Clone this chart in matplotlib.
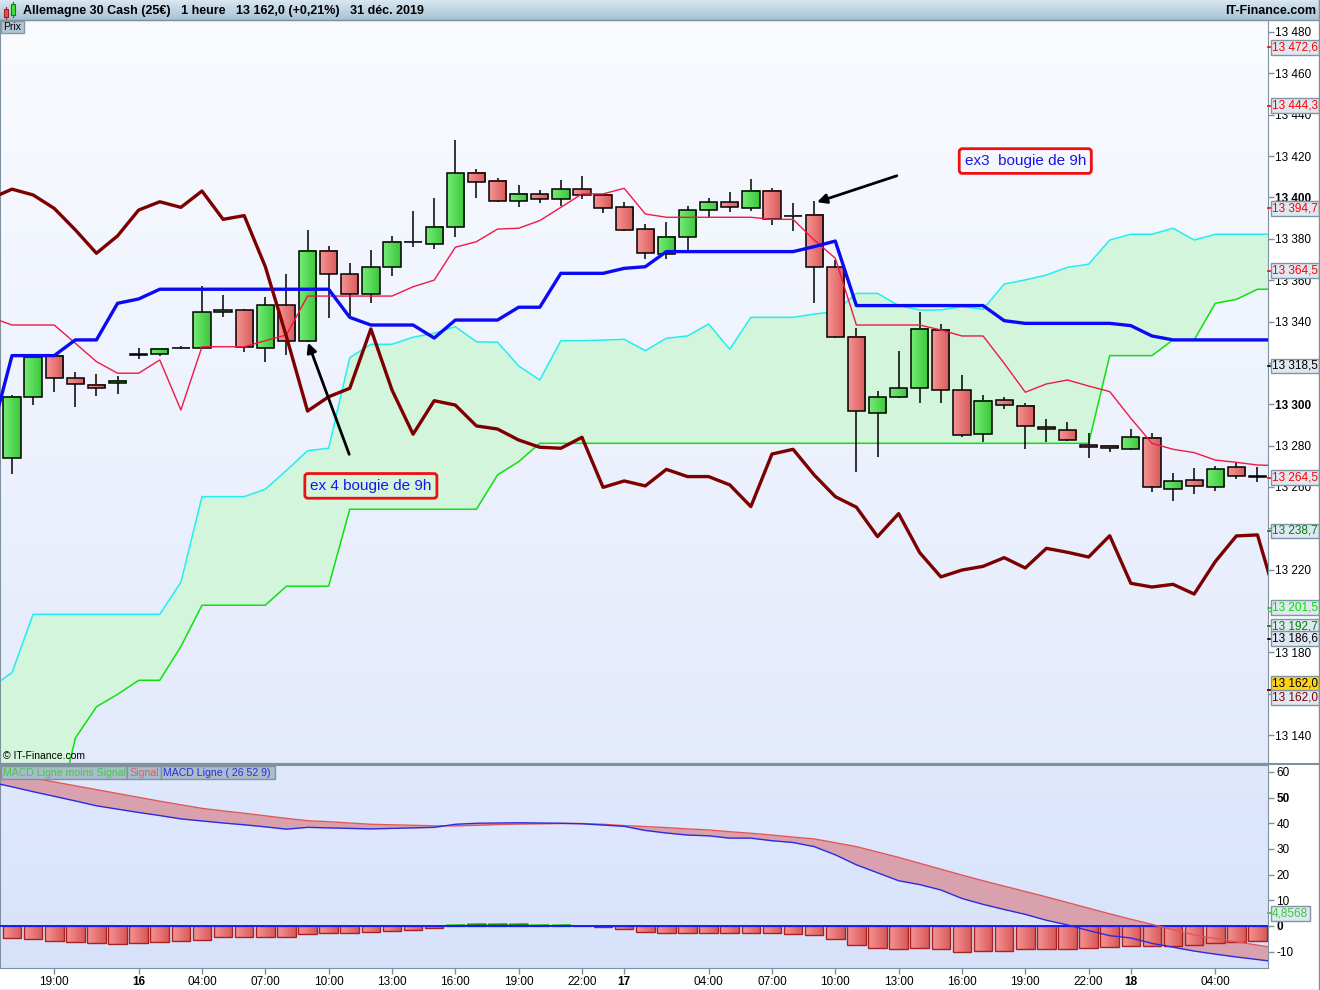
import numpy as np
import matplotlib.pyplot as plt
from matplotlib.patches import Rectangle
from matplotlib.colors import LinearSegmentedColormap

plt.rcParams['font.family'] = ['Liberation Sans', 'DejaVu Sans']

# hourly candles, 60 bars
opens = [13274.0, 13303.4, 13323.2, 13312.5, 13309.4, 13310.1, 13324.0, 13324.1, 13327.0, 13327.1,
         13344.5, 13345.4, 13327.1, 13347.8, 13330.4, 13374.0, 13362.8, 13353.2, 13366.2, 13378.3,
         13377.3, 13385.6, 13411.7, 13407.8, 13398.1, 13401.5, 13399.1, 13403.9, 13401.0, 13395.2,
         13384.6, 13372.5, 13381.0, 13393.8, 13397.6, 13394.7, 13403.0, 13391.0, 13391.4, 13366.2,
         13332.7, 13295.9, 13303.4, 13307.7, 13336.0, 13306.7, 13285.5, 13301.9, 13299.0, 13288.8,
         13287.4, 13280.1, 13279.7, 13278.2, 13283.5, 13258.9, 13263.2, 13259.8, 13269.5, 13265.0]
highs = [13304.5, 13324.3, 13323.5, 13315.4, 13314.5, 13313.7, 13327.1, 13327.1, 13328.2, 13357.3,
         13352.8, 13346.0, 13352.0, 13363.0, 13384.3, 13376.5, 13368.2, 13374.6, 13381.4, 13393.4,
         13399.6, 13427.8, 13413.8, 13409.3, 13406.0, 13403.5, 13408.4, 13410.4, 13401.5, 13397.8,
         13387.2, 13388.1, 13395.9, 13399.7, 13402.6, 13408.9, 13404.4, 13397.2, 13398.4, 13369.7,
         13336.7, 13306.4, 13325.7, 13344.6, 13338.8, 13314.1, 13304.5, 13303.6, 13300.5, 13292.9,
         13291.4, 13285.9, 13280.4, 13288.0, 13285.9, 13266.9, 13269.2, 13270.1, 13271.7, 13269.5]
lows = [13266.1, 13299.6, 13306.1, 13298.8, 13304.1, 13305.0, 13321.9, 13323.3, 13326.8, 13326.8,
        13342.3, 13325.4, 13320.3, 13323.8, 13330.0, 13341.8, 13342.7, 13349.1, 13362.2, 13376.2,
        13375.2, 13381.0, 13399.9, 13397.8, 13395.5, 13397.5, 13395.9, 13399.4, 13392.6, 13384.0,
        13370.4, 13370.4, 13373.3, 13390.7, 13393.1, 13393.6, 13386.7, 13383.9, 13349.1, 13332.0,
        13267.4, 13274.6, 13303.0, 13300.7, 13300.5, 13284.0, 13281.9, 13297.7, 13278.5, 13281.9,
        13282.4, 13274.1, 13276.8, 13278.0, 13257.4, 13253.2, 13256.6, 13258.2, 13263.9, 13262.5]
closes = [13303.6, 13322.7, 13312.5, 13309.6, 13307.7, 13311.1, 13324.2, 13326.6, 13327.3, 13344.5,
          13345.4, 13327.7, 13347.8, 13330.4, 13374.0, 13362.8, 13353.2, 13366.2, 13378.3, 13378.5,
          13385.6, 13411.7, 13407.3, 13398.1, 13401.5, 13399.1, 13403.9, 13401.0, 13394.7, 13384.3,
          13373.0, 13381.0, 13393.8, 13397.6, 13395.2, 13403.0, 13389.4, 13390.8, 13366.2, 13332.4,
          13296.7, 13303.6, 13307.7, 13336.5, 13306.7, 13285.0, 13301.7, 13299.5, 13289.3, 13287.9,
          13282.6, 13279.2, 13278.7, 13284.0, 13259.8, 13262.7, 13260.3, 13268.5, 13265.2, 13264.8]

# ichimoku lines, one bar before and one after the candles (62 values)
kijun = [13284.4, 13323.5, 13323.5, 13323.5, 13331.1, 13331.1, 13348.8, 13350.9, 13355.6, 13355.6,
         13355.6, 13355.6, 13355.6, 13355.6, 13355.6, 13355.6, 13355.6, 13342.0, 13338.3, 13338.3,
         13338.3, 13332.0, 13340.7, 13340.7, 13340.7, 13346.9, 13346.9, 13363.3, 13363.3, 13363.3,
         13365.7, 13366.5, 13373.8, 13373.8, 13373.8, 13373.8, 13373.8, 13373.8, 13373.8, 13376.2,
         13378.9, 13347.7, 13347.7, 13347.7, 13347.7, 13347.7, 13347.7, 13347.7, 13340.4, 13339.1,
         13339.1, 13339.1, 13339.1, 13339.1, 13338.0, 13333.0, 13331.1, 13331.1, 13331.1, 13331.1,
         13331.1, 13331.1]
tenkan = [13342.0, 13338.3, 13338.3, 13338.3, 13329.5, 13320.6, 13315.0, 13315.0, 13321.4, 13297.2,
          13327.8, 13327.8, 13327.8, 13330.7, 13333.5, 13352.3, 13352.3, 13352.3, 13352.3, 13352.3,
          13356.8, 13360.0, 13375.9, 13378.6, 13384.7, 13385.1, 13388.8, 13395.2, 13401.7, 13401.7,
          13404.4, 13392.0, 13390.4, 13390.4, 13390.4, 13390.4, 13390.4, 13389.4, 13389.4, 13379.4,
          13370.6, 13338.3, 13338.3, 13338.3, 13338.3, 13335.9, 13333.0, 13333.0, 13319.8, 13305.8,
          13309.8, 13311.7, 13308.8, 13306.1, 13293.2, 13281.1, 13278.2, 13276.6, 13273.0, 13271.9,
          13270.6, 13270.3]
senkou_a = [13163.0, 13170.2, 13198.4, 13198.4, 13198.4, 13198.4, 13198.4, 13198.4, 13198.4, 13213.9,
            13255.3, 13255.3, 13255.3, 13258.9, 13268.0, 13277.5, 13278.7, 13322.5, 13329.0, 13329.0,
            13332.4, 13334.3, 13337.5, 13330.2, 13330.0, 13318.5, 13311.7, 13330.7, 13330.7, 13331.0,
            13331.4, 13325.9, 13331.9, 13333.0, 13338.8, 13326.6, 13342.0, 13342.0, 13342.0, 13343.6,
            13344.8, 13353.6, 13353.6, 13347.7, 13345.6, 13345.6, 13347.2, 13345.9, 13358.1, 13360.1,
            13362.5, 13366.2, 13367.7, 13379.4, 13382.2, 13382.2, 13385.1, 13379.4, 13382.2, 13382.2,
            13382.2, 13382.2]
senkou_b = [13078.0, 13083.0, 13088.0, 13095.0, 13138.5, 13153.7, 13159.7, 13166.5, 13166.5, 13182.8,
            13202.8, 13202.8, 13202.8, 13202.8, 13212.0, 13212.0, 13212.0, 13249.2, 13249.2, 13249.2,
            13249.2, 13249.2, 13249.2, 13249.2, 13265.8, 13272.2, 13281.1, 13281.1, 13281.1, 13281.1,
            13281.1, 13281.1, 13281.1, 13281.1, 13281.1, 13281.1, 13281.1, 13281.1, 13281.1, 13281.1,
            13281.1, 13281.1, 13281.1, 13281.1, 13281.1, 13281.1, 13281.1, 13281.1, 13281.1, 13281.1,
            13281.1, 13281.1, 13281.1, 13323.5, 13323.5, 13323.5, 13331.1, 13331.1, 13348.8, 13350.7,
            13355.6, 13355.6]
chikou = [13399.5, 13404.0, 13401.2, 13394.7, 13384.3, 13373.0, 13381.4, 13393.9, 13397.9, 13395.2,
          13403.1, 13389.4, 13391.2, 13366.5, 13332.7, 13296.7, 13303.6, 13307.7, 13336.4, 13306.9,
          13285.5, 13301.7, 13299.6, 13289.5, 13288.0, 13282.7, 13279.2, 13278.7, 13284.0, 13259.8,
          13262.9, 13260.5, 13268.5, 13265.0, 13265.0, 13261.0, 13250.5, 13275.9, 13278.2, 13265.8,
          13255.3, 13250.2, 13236.0, 13247.1, 13228.2, 13216.5, 13219.8, 13221.6, 13225.8, 13220.8,
          13230.3, 13228.4, 13226.1, 13236.4, 13213.4, 13211.6, 13212.9, 13208.2, 13223.9, 13236.3,
          13236.8, 13202.0]

# MACD panel (62 values for lines, 60 for histogram)
macd_line = [56.0, 54.2, 52.3, 50.5, 48.7, 46.8, 45.5, 44.2, 43.0, 41.7,
             40.9, 40.1, 39.4, 38.6, 37.7, 38.4, 38.2, 38.0, 37.8, 38.0,
             38.2, 38.4, 39.6, 40.0, 40.1, 40.2, 40.1, 40.0, 39.8, 39.3,
             38.8, 37.2, 36.2, 35.4, 35.1, 34.2, 34.2, 33.2, 32.5, 30.9,
             27.7, 23.8, 20.7, 17.6, 16.1, 14.0, 10.7, 8.4, 6.4, 4.5,
             2.2, 0.4, -1.8, -3.8, -4.7, -6.8, -8.3, -9.8, -11.0, -12.1,
             -13.1, -14.1]
signal_line = [60.6, 59.1, 57.6, 56.1, 54.6, 53.1, 51.6, 50.1, 48.6, 47.2,
               45.8, 44.8, 43.9, 42.9, 41.9, 41.0, 40.6, 40.1, 39.6, 39.4,
               39.2, 39.0, 39.0, 39.2, 39.5, 39.7, 39.8, 39.9, 39.9, 39.6,
               39.1, 38.7, 38.3, 37.8, 37.4, 36.7, 36.1, 35.4, 34.6, 33.9,
               32.4, 30.9, 28.8, 26.7, 24.4, 22.1, 19.8, 17.6, 15.5, 13.4,
               11.3, 9.1, 6.9, 4.7, 2.6, 0.6, -1.5, -3.5, -4.9, -6.2,
               -7.5, -8.8]
macd_hist = [-4.9, -5.2, -5.7, -6.1, -6.5, -6.9, -6.5, -6.1, -5.7, -5.3,
             -4.5, -4.5, -4.2, -4.2, -3.0, -2.6, -2.6, -2.2, -1.8, -1.4,
             -1.0, 0.4, 0.8, 0.8, 0.8, 0.4, 0.4, 0.0, -0.6, -1.3,
             -2.2, -2.6, -2.6, -2.6, -2.6, -2.6, -2.6, -3.0, -3.6, -5.2,
             -7.5, -8.7, -9.1, -8.7, -9.1, -10.0, -9.6, -9.6, -9.1, -9.1,
             -9.1, -8.7, -8.3, -7.9, -7.9, -7.9, -7.5, -6.8, -6.4, -5.8]

tick_pos = [2, 6, 9, 12, 15, 18, 21, 24, 27, 29, 33, 36, 39, 42, 45, 48, 51, 53, 57]
tick_labels = ["19:00", "16", "04:00", "07:00", "10:00", "13:00", "16:00", "19:00", "22:00", "17",
               "04:00", "07:00", "10:00", "13:00", "16:00", "19:00", "22:00", "18", "04:00"]
day_labels = ["16", "17", "18"]

price_ticks = list(range(13140, 13481, 20))
bold_prices = [13300, 13400]
macd_ticks = [-10, 0, 10, 20, 30, 40, 50, 60]
bold_macd = [0, 50]

# right-axis value tags: value, text colour, background
tag_values = [13472.6, 13444.3, 13394.7, 13364.5, 13318.5, 13264.5, 13238.7, 13201.5, 13192.7, 13186.6, 13162.0, 13162.0]
tag_colors = ['#ff0000', '#ff0000', '#ff0000', '#ff0000', '#000000', '#ff0000', '#008000', '#00e000',
              '#008000', '#000000', '#000000', '#800000']
tag_bg = ['#dfe7f0'] * 10 + ['#ffd21a', '#dfe7f0']
tag_shift = [0] * 10 + [6, -8]

W, H = 1320, 990
fig = plt.figure(figsize=(13.2, 9.9), dpi=100)
fig.patch.set_facecolor('white')


def px_axes(x0, y0, x1, y1):
    return fig.add_axes([x0 / W, 1 - y1 / H, (x1 - x0) / W, (y1 - y0) / H])


def gradient(a, top, bottom):
    cm = LinearSegmentedColormap.from_list('bg', [bottom, top])
    a.imshow(np.linspace(0, 1, 256).reshape(-1, 1), extent=[0, 1, 0, 1], transform=a.transAxes,
             cmap=cm, aspect='auto', origin='lower', zorder=0)


def spaced(v):
    return f"{v:,}".replace(",", " ")


frame = '#7f919e'
green_body = LinearSegmentedColormap.from_list('gb', ['#74ec74', '#3cc63c'])
red_body = LinearSegmentedColormap.from_list('rb', ['#f69494', '#d85a5a'])
hgrad = np.linspace(0, 1, 32).reshape(1, -1)

# header bar
axh = px_axes(0, 0, W, 20)
gradient(axh, '#d9e7f0', '#a7c2d5')
axh.set_xlim(0, W)
axh.set_ylim(20, 0)
axh.axis('off')
axh.add_patch(Rectangle((4, 9), 4, 8, fc='#e85050', ec='#a02020', lw=0.8, zorder=2))
axh.plot([6, 6], [7, 19], color='#a02020', lw=0.8, zorder=1)
axh.add_patch(Rectangle((11, 4), 4, 11, fc='#40e040', ec='#108010', lw=0.8, zorder=2))
axh.plot([13, 13], [2, 17], color='#108010', lw=0.8, zorder=1)
axh.text(23, 11, "Allemagne 30 Cash (25€)   1 heure   13 162,0 (+0,21%)   31 déc. 2019",
         fontsize=9, fontweight='bold', va='center', ha='left')
axh.text(1316, 11, "IT-Finance.com", fontsize=9, fontweight='bold', va='center', ha='right')

# price panel
ax = px_axes(0, 20, 1268, 763)
gradient(ax, '#f9fbff', '#e3eafb')
x = np.arange(len(opens))
xl = np.arange(-1, len(opens) + 1)
o = np.array(opens)
c = np.array(closes)
up = c >= o
body_lo = np.minimum(o, c)
body_h = np.maximum(np.abs(c - o), 0.3)
bw = 0.82

ax.fill_between(xl, senkou_a, senkou_b, color='#d3f5dc', lw=0, zorder=1)
ax.plot(xl, senkou_a, color='#22eef0', lw=1.1, zorder=2)
ax.plot(xl, senkou_b, color='#10e010', lw=1.1, zorder=2)

ax.vlines(x, lows, highs, color='black', lw=1.1, zorder=4)
for xi, lo, h, u in zip(x, body_lo, body_h, up):
    ax.imshow(hgrad, extent=[xi - bw / 2, xi + bw / 2, lo, lo + h], cmap=green_body if u else red_body,
              aspect='auto', origin='lower', zorder=4.5, interpolation='bilinear')
ax.bar(x, body_h, bottom=body_lo, width=bw, color='none', edgecolor='black', lw=1.1, zorder=5)

ax.plot(xl, tenkan, color='#f01848', lw=1.0, zorder=6)
ax.plot(xl, kijun, color='#0a0af5', lw=2.4, zorder=6)
ax.plot(xl, chikou, color='#7d0000', lw=2.4, zorder=6)

ax.set_xlim(-12 / 21.11, (1268 - 12) / 21.11)
ax.set_ylim(13126.5, 13485.8)
ax.set_xticks([])
ax.yaxis.tick_right()
# labels hidden under a value tag are left blank, as on the original
covered = [v for v in price_ticks if min(abs(v - t) for t in tag_values) < 2.5]
ax.set_yticks(price_ticks, ["" if v in covered else spaced(v) for v in price_ticks])
for t, v in zip(ax.get_yticklabels(), price_ticks):
    if v in bold_prices:
        t.set_fontweight('bold')
ax.tick_params(axis='y', length=4, width=1, color=frame, pad=1, labelsize=8.5)
for s in ax.spines.values():
    s.set_color(frame)

yt = ax.get_yaxis_transform()
for v, tc, bg, dy in zip(tag_values, tag_colors, tag_bg, tag_shift):
    ax.plot([1.0, 1.0035], [v, v], transform=yt, color=tc, lw=1.2, clip_on=False, zorder=7)
    ax.annotate(f"{v:,.1f}".replace(",", " ").replace(".", ","), xy=(1.0, v), xycoords=yt,
                xytext=(4, dy), textcoords='offset pixels', ha='left', va='center',
                fontsize=8.5, color=tc, annotation_clip=False, zorder=9,
                bbox=dict(boxstyle='square,pad=0.12', fc=bg, ec='#7f95a6', lw=1))

# annotations
ax.annotate('', xy=(13.98, 13331.0), xytext=(16.02, 13274.5),
            arrowprops=dict(arrowstyle='-|>', color='black', lw=2, mutation_scale=14), zorder=8)
ax.annotate('', xy=(38.01, 13397.3), xytext=(42.04, 13410.9),
            arrowprops=dict(arrowstyle='-|>', color='black', lw=2, mutation_scale=14), zorder=8)
ax.text(17.0, 13260.5, 'ex 4 bougie de 9h', ha='center', va='center', color='#1616e8', fontsize=11,
        bbox=dict(boxstyle='round,pad=0.35,rounding_size=0.2', fc='none', ec='#ee1010', lw=2), zorder=8)
ax.text(48.0, 13417.6, 'ex3  bougie de 9h', ha='center', va='center', color='#1616e8', fontsize=11,
        bbox=dict(boxstyle='round,pad=0.35,rounding_size=0.2', fc='none', ec='#ee1010', lw=2), zorder=8)

fig.text(3 / W, 1 - 756 / H, "© IT-Finance.com", fontsize=7.5, va='center', ha='left')
fig.add_artist(Rectangle((1 / W, 1 - 33 / H), 23 / W, 12 / H, transform=fig.transFigure,
                         fc='#b3c5d2', ec='#8499a8', lw=1))
fig.text(3 / W, 1 - 27 / H, "Prix", fontsize=7.5, va='center', ha='left')

# MACD panel
ax2 = px_axes(0, 765, 1268, 968)
gradient(ax2, '#dfe8fd', '#d7e2fa')
ax2.fill_between(xl, macd_line, signal_line, color='#d9a1ad', lw=0, zorder=1)
hist = np.array(macd_hist)
for xi, hv in zip(x, hist):
    if hv != 0:
        ax2.imshow(hgrad, extent=[xi - 0.44, xi + 0.44, min(0, hv), max(0, hv)],
                   cmap=green_body if hv > 0 else red_body, aspect='auto', origin='lower',
                   zorder=2.5, interpolation='bilinear')
ax2.bar(x, hist, width=0.88, color='none',
        edgecolor=np.where(hist >= 0, '#168a16', '#a82222'), lw=1, zorder=3)
ax2.axhline(0, color='#1c1cf5', lw=1.4, zorder=4)
ax2.plot(xl, signal_line, color='#e25858', lw=1, zorder=5)
ax2.plot(xl, macd_line, color='#2b2be6', lw=1, zorder=5)
ax2.set_xlim(ax.get_xlim())
ax2.set_ylim(-16.4, 62.7)
ax2.yaxis.tick_right()
ax2.set_yticks(macd_ticks, [str(v) for v in macd_ticks])
for t, v in zip(ax2.get_yticklabels(), macd_ticks):
    if v in bold_macd:
        t.set_fontweight('bold')
ax2.set_xticks(tick_pos, tick_labels)
for t in ax2.get_xticklabels():
    if t.get_text() in day_labels:
        t.set_fontweight('bold')
        t.set_fontsize(9.5)
ax2.tick_params(axis='both', length=4, width=1, color=frame, pad=2, labelsize=8.5)
for s in ax2.spines.values():
    s.set_color(frame)

yt2 = ax2.get_yaxis_transform()
ax2.plot([1.0, 1.0035], [4.8568, 4.8568], transform=yt2, color='#30c030', lw=1.2, clip_on=False)
ax2.annotate("4,8568", xy=(1.0, 4.8568), xycoords=yt2, xytext=(4, 0), textcoords='offset pixels',
             ha='left', va='center', fontsize=8.5, color='#40c840', annotation_clip=False, zorder=9,
             bbox=dict(boxstyle='square,pad=0.12', fc='#dfe7f0', ec='#7f95a6', lw=1))

# MACD legend boxes
legend_boxes = [(1, 127, "MACD Ligne moins Signal", '#46c846'),
                (127, 161, "Signal", '#e45c5c'),
                (161, 275, "MACD Ligne ( 26 52 9)", '#2c2ce0')]
for x0, x1, txt, col in legend_boxes:
    fig.add_artist(Rectangle((x0 / W, 1 - 779 / H), (x1 - x0) / W, 13 / H, transform=fig.transFigure,
                             fc='#a9bccb', ec='#8092a2', lw=1, zorder=10))
    fig.text((x0 + 2) / W, 1 - 772.5 / H, txt, fontsize=7.6, color=col, va='center', ha='left', zorder=11)

# outer frame lines
fig.add_artist(plt.Line2D([0, 1], [1 - 20 / H, 1 - 20 / H], transform=fig.transFigure, color=frame, lw=1))
fig.add_artist(plt.Line2D([0, 1], [1 - 764 / H, 1 - 764 / H], transform=fig.transFigure, color=frame, lw=1.5))
fig.add_artist(plt.Line2D([1 - 1 / W, 1 - 1 / W], [0, 1], transform=fig.transFigure, color=frame, lw=1))
fig.add_artist(plt.Line2D([0, 1], [0.5 / H, 0.5 / H], transform=fig.transFigure, color=frame, lw=1))

fig.savefig('out.png', dpi=100)
